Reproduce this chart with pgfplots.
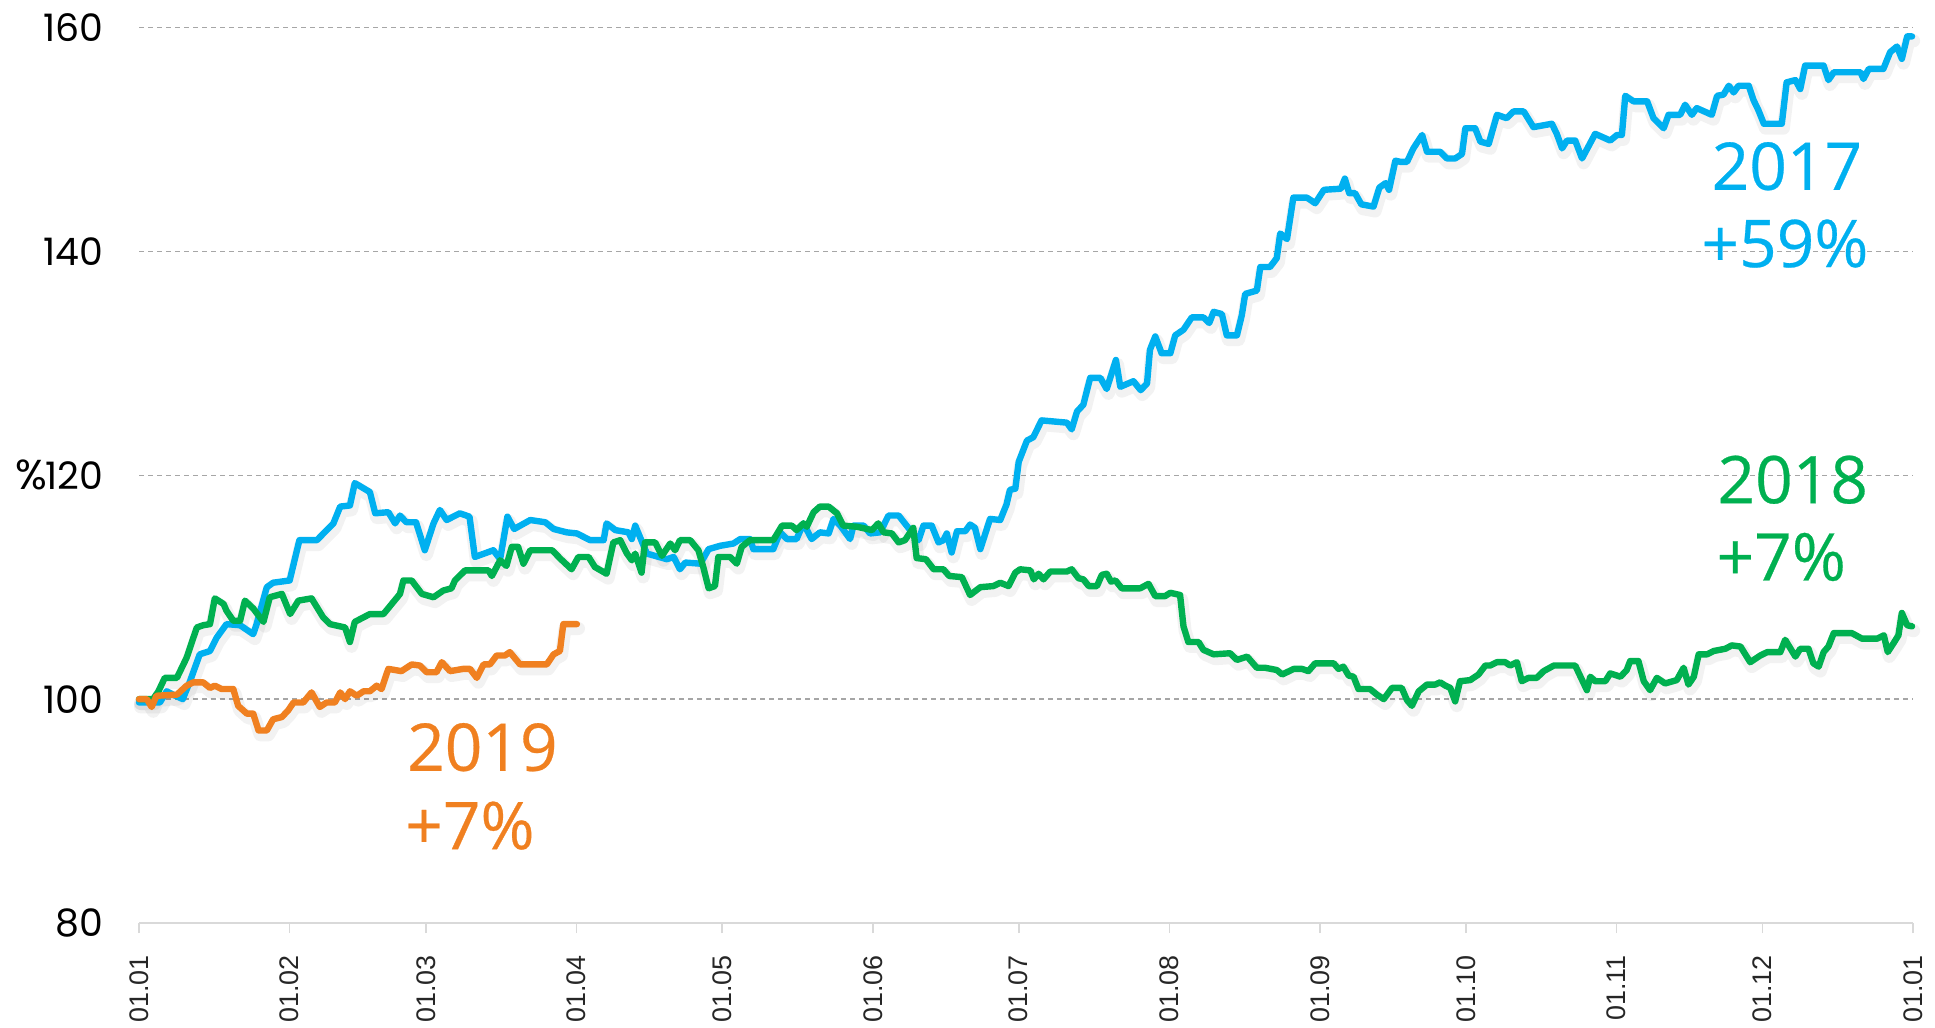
\documentclass[border=0pt]{standalone}
\usepackage{pgfplots}
\usepackage{pgfplotstable}
\pgfplotsset{compat=1.18}
\usepackage{fontspec}
\setmainfont{Open Sans}
\newfontfamily\tickfont{Poppins}
\newfontfamily\xtickfont{Liberation Sans}
\newfontfamily\labelfont[FakeBold=0.4]{Open Sans}
\definecolor{cblue}{RGB}{0,176,240}
\definecolor{cgreen}{RGB}{0,176,80}
\definecolor{corange}{RGB}{240,128,32}
\definecolor{gridgray}{RGB}{166,166,166}
\definecolor{axisgray}{RGB}{217,217,217}

\pgfplotstableread{
d v
0 99.7
4.3 99.7
5.7 100.7
7 100.4
9 100
10.5 101.6
12.5 104
14.6 104.3
16 105.5
18 106.7
20.8 106.6
23.5 105.8
24.2 106.7
26.3 110
27.6 110.4
31 110.6
33 114.2
36.6 114.2
40 115.7
41.4 117.2
43.4 117.3
44.4 119.3
47.5 118.5
48.6 116.6
51.3 116.7
52.7 115.7
53.7 116.4
55 115.8
57 115.8
58.8 113.3
60.6 115.7
61.9 116.9
63.3 116
66 116.6
68 116.3
69.1 112.7
72.9 113.3
74.3 112.5
75.8 116.3
77.2 115.2
80.5 116
83.6 115.8
85.3 115.2
88 114.9
90.1 114.8
92.8 114.2
95.6 114.2
96.2 115.7
98 115.1
100.7 114.9
101.4 114.3
102.1 115.5
104.5 113
108.6 112.5
110 112.7
111.3 111.6
112.4 112.2
115.5 112.1
117.2 113.4
119.6 113.7
122.3 113.9
123.7 114.3
125.7 114.3
126.4 113.4
130.5 113.4
131.9 114.9
133.3 114.3
135.3 114.3
136.7 115.7
138.4 114.3
140.1 114.9
141.9 114.8
142.9 116.1
144.3 115.5
146.3 114.3
147 115.5
149.1 115.5
150.4 114.8
152.5 114.9
154.2 116.4
156.3 116.4
158.3 115.3
160.4 114.2
161.4 115.5
163.1 115.5
164.5 114
165.5 114.2
166.2 114.8
167.2 113.1
168.3 115
170 115
171 115.6
172 115.3
173.1 113.4
175.1 116.1
177.2 116
178.5 117.4
179.2 118.7
180.3 118.8
181 121.2
182.7 123.1
184 123.4
185.7 124.9
190.9 124.7
191.9 124.1
193 125.7
194.3 126.3
195.7 128.7
197.8 128.7
199.1 127.7
201 130.3
201.9 127.9
204.6 128.4
206.1 127.6
207.4 128.2
208 131.2
209.1 132.4
210.4 130.9
212.2 130.9
213.2 132.5
214.9 133
216.6 134.1
219 134.1
220.2 133.6
221.1 134.6
222.8 134.4
223.8 132.5
225.9 132.5
226.9 134.3
227.6 136.2
230 136.5
230.7 138.6
232.7 138.6
234.1 139.4
234.8 141.6
236.2 141.1
237.5 144.8
240.3 144.8
242 144.3
243.8 145.5
247.3 145.6
248.1 146.5
249 145.2
250.2 145.2
251.5 144.2
254 144
255.2 145.7
256.5 146.1
257.2 145.5
258.5 148.1
259.5 148
260.9 148
262.2 149.2
264 150.4
265 148.9
267.7 148.9
269.1 148.3
270.8 148.3
272.2 148.7
272.9 151
274.9 151
276 149.8
277.7 149.6
279.4 152.2
281.4 151.9
282.8 152.5
284.9 152.5
286.9 151.1
290.7 151.4
291.7 150.5
292.8 149.2
293.8 149.9
295.5 149.9
296.9 148.3
299.6 150.5
302.7 149.9
304.1 150.4
305.1 150.4
305.8 153.9
307.5 153.4
310.3 153.4
311.6 151.9
313.7 151
314.7 152.2
317.1 152.2
318.1 153.1
319.5 152.2
320.5 152.8
323.6 152.2
324.7 153.9
326 154
327.1 154.8
328.1 154.2
329.1 154.8
331.2 154.8
332.2 153.5
333.2 152.6
334.3 151.4
338 151.4
339 155.1
340.8 155.3
341.8 154.5
342.8 156.6
346.6 156.6
347.6 155.3
348.7 156
354.2 156
354.8 155.4
355.9 156.3
358.9 156.3
360.3 157.8
361.7 158.3
362.7 157.2
363.8 159.2
364.8 159.2
}\tblblue

\pgfplotstableread{
d v
0 100
2.9 100
4 100.7
5.3 101.9
7.8 101.9
9.8 103.7
11.9 106.4
13.2 106.6
14.6 106.7
15.6 109
17.4 108.5
18 107.9
19.4 107
20.8 107
21.8 108.8
23.5 108.1
25.6 106.9
26.9 109.1
29.4 109.4
31.1 107.6
32.8 108.8
35.5 109
37.9 107.3
39.3 106.7
42.4 106.4
43.4 105.1
44.4 106.9
47.5 107.6
50.3 107.6
52 108.5
53.7 109.4
54.4 110.6
56.1 110.6
58.2 109.4
60.6 109.1
62.6 109.7
64.3 109.9
65 110.6
67.1 111.5
71.9 111.5
72.6 111
74.3 112.4
75.6 111.9
76.7 113.6
78 113.6
79.1 112.1
80.5 113.3
85 113.3
86.8 112.5
89 111.6
90.4 112.7
92.5 112.7
93.8 111.8
96.2 111.2
97.6 114
99 114.2
100.4 113
101.4 112.4
102.1 113
103.4 111.3
104.1 114
106.2 114
107.6 112.8
109.3 113.9
110.3 113.3
111.3 114.2
113.4 114.2
115.1 113.3
116.1 111.8
117.2 109.9
118.5 110.1
119.2 112.7
121.6 112.7
123 112.1
124 113.6
125.7 114.2
130.5 114.2
132.3 115.5
134.3 115.5
135.3 115.1
136.7 115.7
137.4 115.4
138.8 116.7
140.1 117.2
141.9 117.2
143.6 116.6
144.9 115.5
147.7 115.4
150.8 115.1
152.1 115.7
153.2 114.9
154.9 114.8
156.3 114
157.6 114.2
159.3 115.3
160 112.6
161.9 112.5
163.5 111.6
165.5 111.6
166.7 111
169.3 110.9
171 109.3
173.1 110
175.8 110.1
177.2 110.4
178.9 110.1
180.3 111.3
181.3 111.6
183.4 111.5
184.1 110.7
185.1 111.2
186.1 110.7
187.5 111.4
190.9 111.4
191.9 111.6
193.3 110.8
194.3 110.7
195.4 110.1
197.1 110.1
198.1 111.1
199.1 111.2
200 110.5
200.9 110.6
202.2 109.9
206 109.9
207.7 110.3
209.1 109.2
211.1 109.2
212.2 109.5
214.2 109.3
214.9 106.5
215.9 105.1
218 105.1
219 104.4
221.1 104
224.5 104.1
225.9 103.5
228 103.8
230 102.8
231.7 102.8
234.1 102.6
235.2 102.2
237.6 102.7
239.3 102.7
240.6 102.5
242 103.2
245.8 103.2
246.8 102.7
247.8 102.9
248.9 102.1
249.9 102
250.9 100.9
253.3 100.9
254.7 100.4
256.1 100
257.8 101
259.8 101
260.9 99.9
261.9 99.4
263.3 100.7
265 101.3
266.7 101.3
267.7 101.5
268.8 101.2
269.8 101
270.8 99.8
271.8 101.6
273.9 101.7
275.6 102.2
277 103
278 103
279.4 103.3
281.1 103.3
282.1 103
283.5 103.3
284.5 101.6
285.9 101.9
287.6 101.9
289 102.5
291.1 103
295.5 103
297.9 100.8
298.6 102
299.6 101.6
301.7 101.6
302.7 102.3
304.8 102
306.1 102.6
306.8 103.4
308.5 103.4
309.6 101.6
310.9 100.8
312.3 101.9
314 101.4
316.4 101.7
317.8 102.8
318.8 101.3
319.9 102
320.9 104
322.6 104
324 104.3
326.4 104.5
327.7 104.8
329.5 104.7
331.5 103.3
333.6 103.9
335 104.2
337.7 104.2
338.7 105.3
340.8 103.8
341.8 104.5
343.5 104.5
344.5 103.2
345.6 102.9
346.6 104.2
347.6 104.7
348.7 105.9
352.4 105.9
354.5 105.4
357.6 105.4
359 105.7
359.8 104.2
361 105
362 105.7
362.7 107.7
363.8 106.6
364.8 106.5
}\tblgreen

\pgfplotstableread{
d v
0 100
1.6 100
2.6 99.3
3.6 100.3
7.8 100.4
9.8 101.2
11.2 101.5
13.2 101.5
14.6 101
15.6 101.2
17 100.9
19.4 100.9
20.4 99.4
22.2 98.7
23.5 98.7
24.6 97.2
26.3 97.2
27.6 98.2
29.4 98.4
30.7 99
31.8 99.7
33.8 99.7
35.5 100.6
37.2 99.3
38.6 99.7
40.3 99.7
41.4 100.6
42.4 100
43.4 100.7
44.8 100.3
46.2 100.7
47.5 100.7
48.9 101.2
49.9 100.9
51.3 102.7
54 102.5
56.1 103.1
57.8 103
59.2 102.4
61.2 102.4
62.3 103.3
64 102.5
66.7 102.7
68.1 102.7
69.5 101.9
70.9 103.1
72.2 103.1
73.6 103.9
75.3 103.9
76.3 104.2
78.4 103.1
83.9 103.1
85.3 104
86.6 104.3
87.3 106.7
90.1 106.7
}\tblorange

\begin{document}
\begin{tikzpicture}
\path[use as bounding box] (0,0) rectangle (967.5bp,514bp);
\begin{axis}[
  at={(69.5bp,52.5bp)}, anchor=south west,
  width=887bp, height=447.75bp, scale only axis,
  xmin=0, xmax=365, ymin=80, ymax=160,
  clip=false,
  axis x line*=bottom, axis y line*=left,
  x axis line style={draw=axisgray, line width=1bp},
  y axis line style={draw=none},
  xtick={0,31,59,90,120,151,181,212,243,273,304,334,365},
  xticklabels={01.01,01.02,01.03,01.04,01.05,01.06,01.07,01.08,01.09,01.10,01.11,01.12,01.01},
  xtick style={draw=axisgray, line width=0.8bp},
  tick align=outside,
  major tick length=5bp,
  xticklabel shift=11bp,
  xticklabel style={rotate=90, anchor=east, inner sep=0pt, font=\xtickfont\fontsize{13.5}{13.5}\selectfont, text=black!85},
  ytick={100,120,140,160},
  extra y ticks={80},
  extra y tick style={grid=none},
  ytick style={draw=none},
  yticklabel style={anchor=east, inner sep=0pt, xshift=-12.7bp, font=\tickfont\fontsize{19}{19}\selectfont},
  /pgf/number format/assume math mode=true,
  ymajorgrids,
  y grid style={draw=gridgray, line width=0.7bp, dash pattern=on 2.5bp off 2bp},
]
% soft shadows
\addplot[forget plot, draw=black, opacity=0.05, line width=6.5bp, line join=round, line cap=round, shift={(0.8bp,-2.2bp)}] table[x=d,y=v] {\tblblue};
\addplot[forget plot, draw=black, opacity=0.05, line width=6.5bp, line join=round, line cap=round, shift={(0.8bp,-2.2bp)}] table[x=d,y=v] {\tblgreen};
\addplot[forget plot, draw=black, opacity=0.05, line width=6.5bp, line join=round, line cap=round, shift={(0.8bp,-2.2bp)}] table[x=d,y=v] {\tblorange};
% series
\addplot[draw=cblue, line width=3.2bp, line join=round, line cap=round] table[x=d,y=v] {\tblblue};
\addplot[draw=cgreen, line width=3.2bp, line join=round, line cap=round] table[x=d,y=v] {\tblgreen};
\addplot[draw=corange, line width=3.2bp, line join=round, line cap=round] table[x=d,y=v] {\tblorange};
% labels
\node[anchor=base west, inner sep=0pt, text=cblue, font=\labelfont\fontsize{33}{33}\selectfont] at (axis cs:323.5,145.5) {2017};
\node[anchor=base west, inner sep=0pt, text=cblue, font=\labelfont\fontsize{33}{33}\selectfont] at (axis cs:321.4,138.6) {+59\%};
\node[anchor=base west, inner sep=0pt, text=cgreen, font=\labelfont\fontsize{33}{33}\selectfont] at (axis cs:324.7,117.5) {2018};
\node[anchor=base west, inner sep=0pt, text=cgreen, font=\labelfont\fontsize{33}{33}\selectfont] at (axis cs:324.5,110.6) {+7\%};
\node[anchor=base west, inner sep=0pt, text=corange, font=\labelfont\fontsize{33}{33}\selectfont] at (axis cs:55.1,93.6) {2019};
\node[anchor=base west, inner sep=0pt, text=corange, font=\labelfont\fontsize{33}{33}\selectfont] at (axis cs:54.7,86.6) {+7\%};
\node[anchor=west, inner sep=0pt, font=\tickfont\fontsize{21}{21}\selectfont] at ([xshift=-62bp]rel axis cs:0,0.5) {\%};
\end{axis}
\end{tikzpicture}
\end{document}
